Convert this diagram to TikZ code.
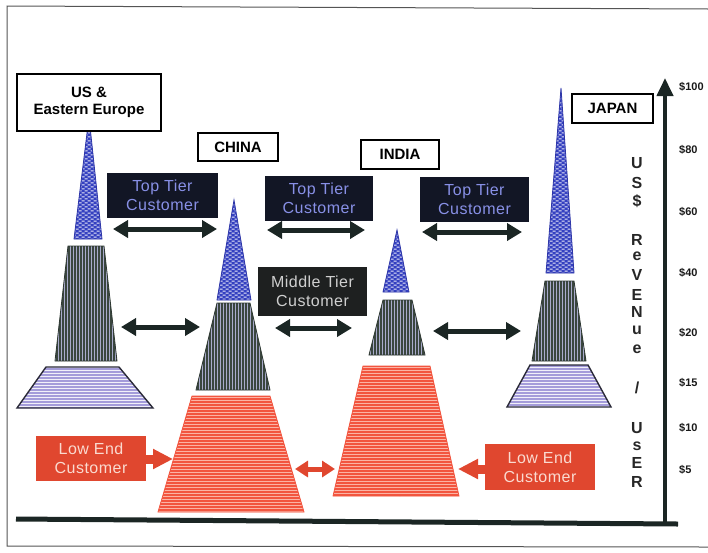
\documentclass[tikz,border=0pt]{standalone}
\usepackage{fontspec}
\setmainfont{Liberation Sans}
\usetikzlibrary{arrows.meta,patterns}

\pgfdeclarepatternformonly{hstripes}{\pgfqpoint{-1pt}{-1pt}}{\pgfqpoint{101pt}{4pt}}{\pgfqpoint{100pt}{3pt}}{%
  \pgfsetlinewidth{1.2pt}\pgfpathmoveto{\pgfqpoint{-1pt}{1.5pt}}\pgfpathlineto{\pgfqpoint{101pt}{1.5pt}}\pgfusepath{stroke}}
\pgfdeclarepatternformonly{vstripes}{\pgfqpoint{-1pt}{-1pt}}{\pgfqpoint{4pt}{101pt}}{\pgfqpoint{3pt}{100pt}}{%
  \pgfsetlinewidth{1.3pt}\pgfpathmoveto{\pgfqpoint{1.5pt}{-1pt}}\pgfpathlineto{\pgfqpoint{1.5pt}{101pt}}\pgfusepath{stroke}}
\pgfdeclarepatternformonly{wbricks}{\pgfqpoint{-1pt}{-1pt}}{\pgfqpoint{7pt}{5pt}}{\pgfqpoint{6pt}{4pt}}{%
  \pgfpathrectangle{\pgfqpoint{0.5pt}{0.5pt}}{\pgfqpoint{3pt}{1pt}}%
  \pgfpathrectangle{\pgfqpoint{3.5pt}{2.5pt}}{\pgfqpoint{3pt}{1pt}}%
  \pgfusepath{fill}}

\definecolor{spireblue}{HTML}{3440C0}
\definecolor{spireedge}{HTML}{2E36A8}
\definecolor{towergray}{HTML}{3A463F}
\definecolor{stripegray}{HTML}{A9ABCB}
\definecolor{lav}{HTML}{A49CDA}
\definecolor{lavedge}{HTML}{2A2A38}
\definecolor{redt}{HTML}{F2553F}
\definecolor{redstripe}{HTML}{FBB3A5}
\definecolor{navy}{HTML}{121625}
\definecolor{toptxt}{HTML}{8890E6}
\definecolor{midboxc}{HTML}{1E2020}
\definecolor{midtxt}{HTML}{CFCFCF}
\definecolor{lowboxc}{HTML}{E0472F}
\definecolor{lowtxt}{HTML}{FADAD0}
\definecolor{arrowk}{HTML}{1B2624}
\definecolor{framec}{HTML}{555555}

\tikzset{
  country/.style={draw=black, line width=1.2pt, fill=white, inner sep=0pt,
    align=center, font=\fontsize{15}{17}\selectfont\bfseries},
  tierbox/.style={fill=navy, text=toptxt, inner sep=0pt, align=center,
    minimum width=109pt, minimum height=45pt,
    font=\fontsize{16}{19}\selectfont\addfontfeature{LetterSpace=3}},
  midtier/.style={tierbox, fill=midboxc, text=midtxt, minimum height=49pt},
  lowtier/.style={tierbox, fill=lowboxc, text=lowtxt, minimum width=110pt},
  fatarrow/.style={draw=arrowk, line width=5pt, >={Triangle[length=15pt,width=17pt]}, <->},
  redarrow/.style={draw=lowboxc, line width=9pt, -{Triangle[length=20pt,width=19pt]}},
  reddouble/.style={draw=lowboxc, line width=5pt, >={Triangle[length=13pt,width=16pt]}, <->},
  spire/.style={draw=spireedge, line width=0.8pt, preaction={fill=spireblue},
    pattern=wbricks, pattern color=white!90!spireblue},
  midpart/.style={draw=towergray!80!black, line width=0.8pt, preaction={fill=towergray},
    pattern=vstripes, pattern color=stripegray},
  lavpart/.style={draw=lavedge, line width=1.4pt, preaction={fill=lav},
    pattern=hstripes, pattern color=white!85!lav},
  redpart/.style={draw=redt, line width=0.8pt, preaction={fill=redt},
    pattern=hstripes, pattern color=redstripe},
  vlet/.style={font=\fontsize{16}{16}\selectfont\bfseries, text=black!85, inner sep=0pt},
  tick/.style={font=\fontsize{11}{11}\selectfont\bfseries, text=black!90, inner sep=0pt, anchor=west}
}

\begin{document}
\begin{tikzpicture}[x=1pt,y=-1pt]
\useasboundingbox (0,0) rectangle (708,552);

% frame
\draw[framec, line width=1pt] (708,9) -- (7,6) -- (7,546) -- (708,547);

% axes
\draw[arrowk, line width=5pt] (16,519) -- (678,524);
\draw[arrowk, line width=4pt, -{Triangle[length=18pt,width=16pt]}] (665,524) -- (665,78);

% US & Eastern Europe tower
\draw[spire] (89,117) -- (102,239) -- (74,239) -- cycle;
\draw[midpart] (68,246) -- (104,246) -- (117,361) -- (55,361) -- cycle;
\draw[lavpart] (46,367) -- (119,367) -- (153,408) -- (17,408) -- cycle;

% China tower
\draw[spire] (234,200) -- (251,300) -- (217,300) -- cycle;
\draw[midpart] (217,303) -- (250,303) -- (270,390) -- (196,390) -- cycle;
\draw[redpart] (192,396) -- (270,396) -- (304,512) -- (158,512) -- cycle;

% India tower
\draw[spire] (397,230) -- (409,292) -- (383,292) -- cycle;
\draw[midpart] (383,300) -- (412,300) -- (425,355) -- (369,355) -- cycle;
\draw[redpart] (363,366) -- (430,366) -- (459,496) -- (333,496) -- cycle;

% Japan tower
\draw[spire] (561,88) -- (574,273) -- (546,273) -- cycle;
\draw[midpart] (545,281) -- (574,281) -- (586,361) -- (532,361) -- cycle;
\draw[lavpart] (530,365) -- (588,365) -- (611,407) -- (507,407) -- cycle;

% country labels
\node[country, minimum width=144pt, minimum height=57pt] (useu) at (89,102.5) {US \&\\Eastern Europe};
\node[country, minimum width=80pt, minimum height=28pt] (china) at (238,147) {CHINA};
\node[country, minimum width=78pt, minimum height=29pt] (india) at (400,154.5) {INDIA};
\node[country, minimum width=81pt, minimum height=29pt] (japan) at (612.5,108.5) {JAPAN};

% tier boxes
\node[tierbox, minimum width=111pt] (top1) at (162.5,195.5) {Top Tier\\Customer};
\node[tierbox, minimum width=108pt] (top2) at (319,198.5) {Top Tier\\Customer};
\node[tierbox] (top3) at (474.5,199) {Top Tier\\Customer};
\node[midtier] (mid) at (312.5,291.5) {Middle Tier\\Customer};
\node[lowtier] (low1) at (91,458.5) {Low End\\Customer};
\node[lowtier, minimum height=46pt] (low2) at (540,467) {Low End\\Customer};

% arrow end points
\coordinate (a1l) at (113,229); \coordinate (a1r) at (217,229);
\coordinate (a2l) at (267,230); \coordinate (a2r) at (365,230);
\coordinate (a3l) at (422,232); \coordinate (a3r) at (522,232);
\coordinate (m1l) at (121,327); \coordinate (m1r) at (200,327);
\coordinate (m2l) at (275,328); \coordinate (m2r) at (352,328);
\coordinate (m3l) at (433,331); \coordinate (m3r) at (521,331);
\coordinate (r1) at (173,459);
\coordinate (r2) at (458,469);
\coordinate (rdl) at (295,469); \coordinate (rdr) at (335,469);

\draw[fatarrow] (a1l) -- (a1r);
\draw[fatarrow] (a2l) -- (a2r);
\draw[fatarrow] (a3l) -- (a3r);
\draw[fatarrow] (m1l) -- (m1r);
\draw[fatarrow] (m2l) -- (m2r);
\draw[fatarrow] (m3l) -- (m3r);
\draw[redarrow] (low1.east |- r1) -- (r1);
\draw[redarrow] (low2.west |- r2) -- (r2);
\draw[reddouble] (rdl) -- (rdr);

% vertical axis title
\foreach \t/\yy [count=\i] in {U/163, S/183, {\$}/201, R/240, e/256, V/275, E/295, N/312, u/330, e/349, {/}/388, U/428, s/446, E/463, R/482}
  \node[vlet] (v\i) at (637,\yy) {\t};

% tick labels
\foreach \t/\yy [count=\i] in {{\$100}/87, {\$80}/150, {\$60}/212, {\$40}/273, {\$20}/333, {\$15}/383, {\$10}/428, {\$5}/470}
  \node[tick] (k\i) at (679,\yy) {\t};
\end{tikzpicture}
\end{document}
